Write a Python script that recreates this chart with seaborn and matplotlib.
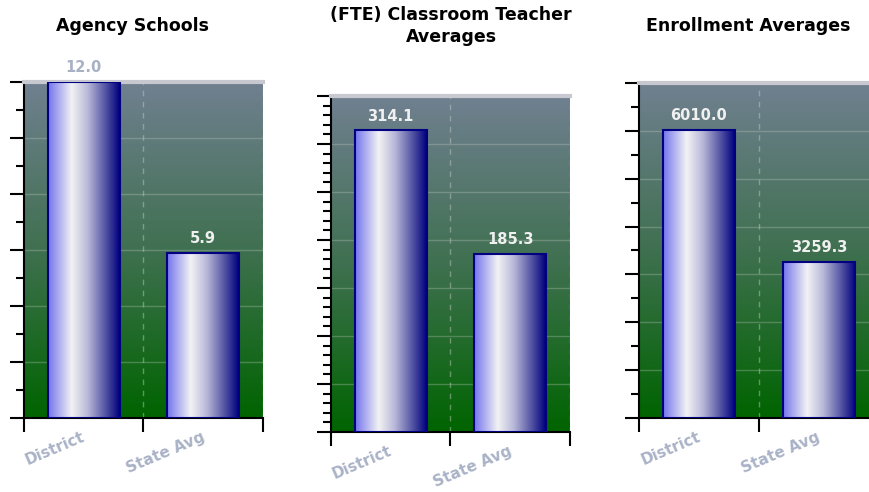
import numpy as np
import pandas as pd
import matplotlib
matplotlib.use("Agg")
import matplotlib.pyplot as plt
import seaborn as sns
from matplotlib.colors import LinearSegmentedColormap
from matplotlib.ticker import MultipleLocator, NullFormatter

# data
categories = ["District", "State Avg"]
schools = [12.0, 5.9]
teachers = [314.1, 185.3]
enrollment = [6010.0, 3259.3]

titles = ["Agency Schools", "(FTE) Classroom Teacher\nAverages", "Enrollment Averages"]
ymax = [12, 350, 7000]
major = [2, 50, 1000]
minor = [1, 10, 500]

sns.set_style("white")
plt.rcParams["font.family"] = ["DejaVu Sans"]

bar_cmap = LinearSegmentedColormap.from_list(
    "bar", [(0, "#7474ee"), (0.33, "#f2f2f4"), (0.55, "#b9b9d9"), (0.8, "#5454a4"), (1, "#00007e")])
bg_cmap = LinearSegmentedColormap.from_list("bg", ["#006400", "#3f7050", "#708090"])

fig = plt.figure(figsize=(8.7, 4.92), dpi=100)

# axes rectangles in pixels: left, top, right, bottom
rects = [(24, 82, 263, 418), (331, 96, 570, 432), (639, 83, 879, 418)]
title_x = [133, 451, 748]

for i, vals in enumerate([schools, teachers, enrollment]):
    l, t, r, b = rects[i]
    ax = fig.add_axes([l / 870, 1 - b / 492, (r - l) / 870, (b - t) / 492])
    df = pd.DataFrame({"cat": categories, "val": vals})
    sns.barplot(data=df, x="cat", y="val", width=0.6, ax=ax,
                facecolor="none", edgecolor="#000080", linewidth=1.5, zorder=4)

    # background gradient
    grad = np.linspace(0, 1, 256).reshape(-1, 1)
    ax.imshow(grad, extent=[-0.5, 1.5, 0, ymax[i]], origin="lower", aspect="auto",
              cmap=bg_cmap, zorder=0)

    # bar gradients
    hgrad = np.linspace(0, 1, 256).reshape(1, -1)
    for p in ax.patches:
        x0, w, h = p.get_x(), p.get_width(), p.get_height()
        ax.imshow(hgrad, extent=[x0, x0 + w, 0, h], aspect="auto", cmap=bar_cmap, zorder=3)
    ax.set_xlim(-0.5, 1.5)
    ax.set_ylim(0, ymax[i])

    # grid
    for y in np.arange(major[i], ymax[i], major[i]):
        ax.axhline(y, color="#c8d0c8", alpha=0.3, lw=1, zorder=1)
    for x in [0.5, 1.5]:
        ax.axvline(x, color="#c8d0c8", alpha=0.45, lw=1, ls=(0, (4, 4)), zorder=1)

    # value labels
    for j, v in enumerate(vals):
        col = "#a8b0c4" if v >= ymax[i] else "#f0f0f0"
        ax.annotate(f"{v:.1f}", (j, v), xytext=(0, 5), textcoords="offset points",
                    ha="center", va="bottom", fontsize=10.5, fontweight="bold",
                    color=col, annotation_clip=False)

    # axes styling
    ax.yaxis.set_major_locator(MultipleLocator(major[i]))
    ax.yaxis.set_minor_locator(MultipleLocator(minor[i]))
    ax.yaxis.set_major_formatter(NullFormatter())
    ax.tick_params(axis="y", which="major", direction="out", length=10, width=1.5, color="black", left=True)
    ax.tick_params(axis="y", which="minor", direction="out", length=6, width=1.5, color="black", left=True)
    ax.set_xticks([-0.5, 0.5, 1.5])
    ax.set_xticklabels([])
    ax.tick_params(axis="x", which="major", direction="out", length=10, width=1.5, color="black", bottom=True)
    for j, c in enumerate(categories):
        ax.text(j - 0.02, -0.035, c, transform=ax.get_xaxis_transform(), rotation=23,
                ha="right", va="top", fontsize=11, fontweight="bold", color="#a9b2c6",
                rotation_mode="anchor")
    ax.set_xlabel("")
    ax.set_ylabel("")
    ax.spines["left"].set_color("black")
    ax.spines["left"].set_linewidth(1.5)
    ax.spines["bottom"].set_color("black")
    ax.spines["bottom"].set_linewidth(1.5)
    ax.spines["top"].set_color("#c8c8d0")
    ax.spines["top"].set_linewidth(3)
    ax.spines["right"].set_visible(False)

    fig.text(title_x[i] / 870, 1 - 26 / 492, titles[i], ha="center", va="center",
             fontsize=12.5, fontweight="bold", color="black", linespacing=1.3)

fig.savefig("out.png", dpi=100)
